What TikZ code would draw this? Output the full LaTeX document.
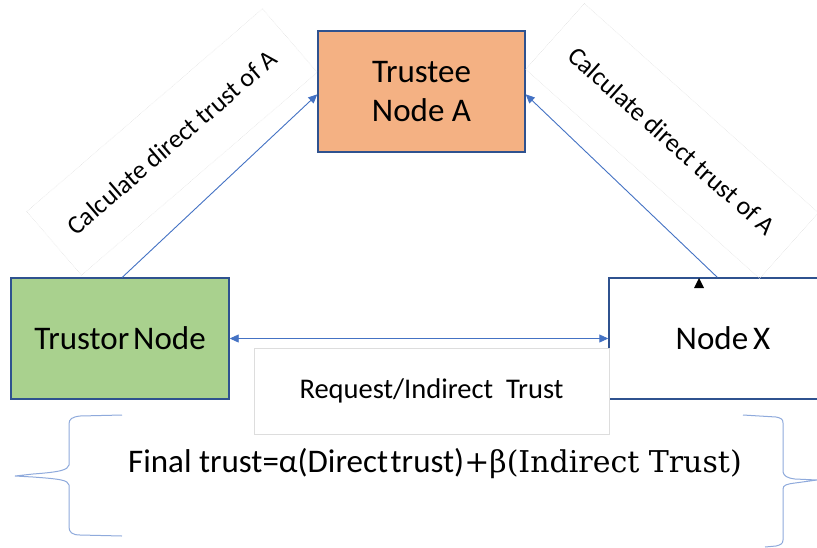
\documentclass[tikz,border=0pt]{standalone}
\usepackage{fontspec}
\usetikzlibrary{arrows.meta}
\newfontfamily\calibri{Carlito}
\newfontfamily\serifpart{DejaVu Serif}
\definecolor{boxline}{HTML}{2F528F}
\definecolor{arrowblue}{HTML}{4472C4}
\definecolor{bracecol}{HTML}{8FAADC}
\definecolor{teefill}{HTML}{F4B183}
\definecolor{torfill}{HTML}{A9D18E}
\definecolor{faint}{HTML}{DDDDDD}
\tikzset{
  nodebox/.style={draw=boxline, line width=1.4pt, inner sep=0pt, align=center,
    font=\calibri\fontsize{33}{39}\selectfont},
  labelbox/.style={draw=faint, densely dotted, line width=0.5pt, inner sep=0pt,
    font=\calibri\fontsize{26}{30}\selectfont},
  conn/.style={draw=arrowblue, line width=0.9pt,
    -{Triangle[length=9pt,width=8pt]}},
  brace/.style={draw=bracecol, line width=1pt},
}
\begin{document}
\begin{tikzpicture}[x=1pt,y=-1pt]
\useasboundingbox[fill=white] (0,0) rectangle (817,547);

% main nodes
\node[nodebox, fill=teefill, minimum width=207pt, minimum height=121pt] (tee) at (421.5,91.5) {Trustee\\Node A};
\node[nodebox, fill=torfill, minimum width=218pt, minimum height=121pt] (tor) at (120,338.5) {Trustor\hspace{0.12em}Node};
\node[nodebox, fill=white, minimum width=228pt, minimum height=121pt] (nx) at (723,338.5) {Node\hspace{0.15em}X};

% request label box
\node[draw=faint, line width=0.6pt, fill=white, minimum width=355pt, minimum height=86pt,
  inner sep=0pt, font=\calibri\fontsize{28.5}{33}\selectfont] (req) at (431.5,391)
  {Request/Indirect\hspace{0.45em}Trust};

% rotated labels on the slanted connectors
\node[labelbox, rotate=40.7, minimum width=311pt, minimum height=84pt] (lab1) at (172,142) {Calculate direct trust of A};
\node[labelbox, rotate=-41.8, minimum width=314pt, minimum height=88pt] (lab2) at (672,141) {Calculate direct trust of A};

% connectors
\draw[conn] ([xshift=112pt]tor.north west) -- ([yshift=-64pt]tee.north west);
\draw[conn] ([xshift=109pt]nx.north west) -- ([yshift=-64pt]tee.north east);
\draw[draw=arrowblue, line width=0.9pt,
  {Triangle[length=9pt,width=8pt]}-{Triangle[length=9pt,width=8pt]}]
  (tor.east) -- (nx.west);

% small black marker at the top of Node X
\fill[black] (694,288) -- (704,288) -- (699,278) -- cycle;

% formula
\node[anchor=base west, inner sep=0pt] (formula) at (128,472)
  {\calibri\fontsize{33}{39}\selectfont Final trust=α(Direct\hspace{0.08em}trust)\serifpart\fontsize{30}{36}\selectfont+β(Indirect Trust)};

% braces around the formula
\draw[brace] (122,415) -- (80,416) .. controls (72,417) and (69,419) .. (69,424)
  -- (69,465) .. controls (68,470) and (60,472) .. (33,474) -- (15,476)
  -- (33,477) .. controls (60,479) and (68,480) .. (69,485)
  -- (69,527) .. controls (69,532) and (72,535) .. (80,535) -- (122,536);
\draw[brace] (743,415) -- (776,417) .. controls (781,418) and (783,419) .. (783,423)
  -- (783,472) .. controls (784,476) and (787,478) .. (795,479) -- (817,480)
  -- (795,483) .. controls (787,484) and (783,485) .. (783,489)
  -- (783,540) .. controls (783,544) and (780,545) .. (776,546) -- (765,547);
\end{tikzpicture}
\end{document}
